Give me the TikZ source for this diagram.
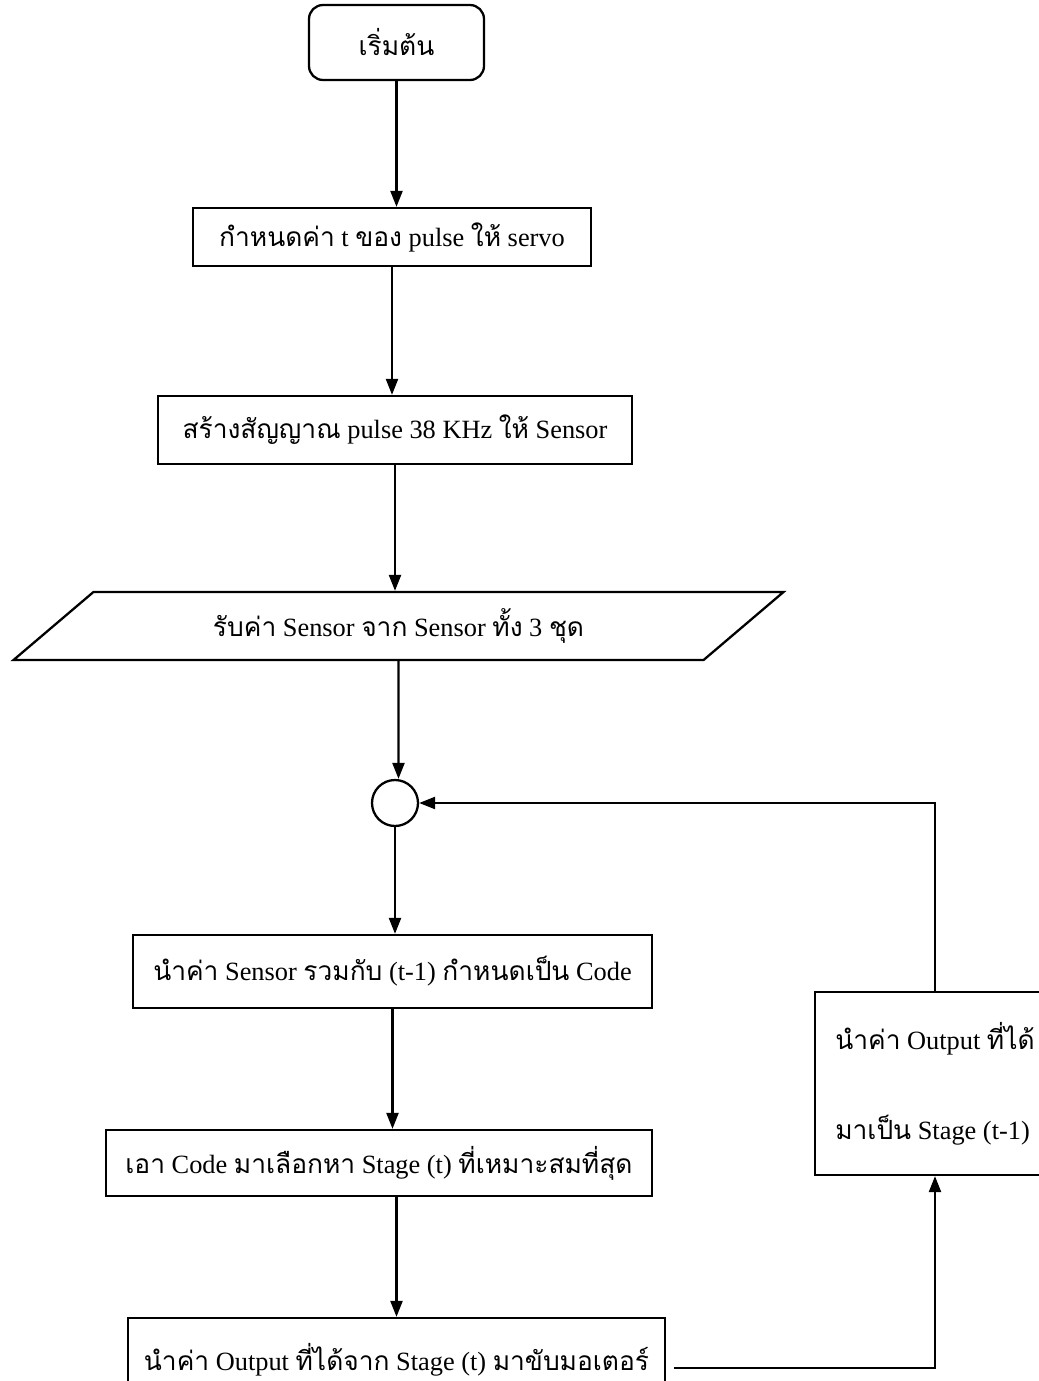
\documentclass[tikz,border=0pt]{standalone}
\usepackage{fontspec}
\setmainfont{Liberation Serif}
\newfontfamily\thaifont[Script=Thai]{Loma}
\newcommand{\thai}[1]{{\thaifont #1}}
\usetikzlibrary{arrows.meta,shapes.geometric}

\begin{document}
\begin{tikzpicture}[
        every node/.style={font=\fontsize{15}{18}\selectfont},
        procbox/.style={draw, rectangle, line width=1.3pt, inner sep=0pt},
        flow/.style={line width=1.3pt, -{Triangle[length=3.2mm,width=2.4mm]}}
    ]
            % Frame to fix the page size:
            \useasboundingbox (0,0) rectangle (20.78,-27.62);
            \clip             (0,0) rectangle (20.78,-27.62);
            % Main column
            \node[procbox, rounded corners=8pt, minimum width=3.50cm, minimum height=1.50cm] (start) at ( 7.93, -0.85) {\thai{เริ่มต้น}};
            \node[procbox, minimum width= 7.96cm, minimum height=1.16cm] (setpulse) at ( 7.84, -4.74) {\thai{กำหนดค่า} t \thai{ของ} pulse \thai{ให้} servo};
            \node[procbox, minimum width= 9.48cm, minimum height=1.36cm] (genpulse) at ( 7.90, -8.60) {\thai{สร้างสัญญาณ} pulse 38 KHz \thai{ให้} Sensor};
            \node[draw, line width=1.3pt, trapezium, trapezium left angle=35.6, trapezium right angle=144.4,
                  trapezium stretches=true, inner sep=0pt, minimum width=15.46cm, minimum height=1.36cm]
                                                                  (readsens) at ( 7.97,-12.52) {\thai{รับค่า} Sensor \thai{จาก} Sensor \thai{ทั้ง} 3 \thai{ชุด}};
            \node[draw, circle, line width=1.3pt, minimum size=0.92cm, inner sep=0pt] (join) at ( 7.90,-16.06) {};
            \node[procbox, minimum width=10.38cm, minimum height=1.46cm] (mkcode)   at ( 7.85,-19.43) {\thai{นำค่า} Sensor \thai{รวมกับ} (t-1) \thai{กำหนดเป็น} Code};
            \node[procbox, minimum width=10.92cm, minimum height=1.32cm] (pickstage) at ( 7.58,-23.26) {\thai{เอา} Code \thai{มาเลือกหา} Stage (t) \thai{ที่เหมาะสมที่สุด}};
            \node[procbox, minimum width=10.74cm, minimum height=1.68cm] (drive)    at ( 7.93,-27.20) {\thai{นำค่า} Output \thai{ที่ได้จาก} Stage (t) \thai{มาขับมอเตอร์}};
            % Feedback box
            \node[procbox, minimum width= 4.80cm, minimum height=3.66cm, align=left] (feedback) at (18.70,-21.67)
                 {\thai{นำค่า} Output \thai{ที่ได้}\\[1.17cm]\thai{มาเป็น} Stage (t-1)};
            % Arrows down the column
            \draw[flow] (start.south)     -- (start |- setpulse.north);
            \draw[flow] (setpulse.south)  -- (setpulse |- genpulse.north);
            \draw[flow] (genpulse.south)  -- (genpulse |- readsens.north);
            \draw[flow] (readsens.south)  -- (readsens |- join.north);
            \draw[flow] (join.south)      -- (join |- mkcode.north);
            \draw[flow] (mkcode.south)    -- (mkcode |- pickstage.north);
            \draw[flow] (pickstage.south -| drive) -- (drive.north);
            % Feedback loop
            \draw[flow] ([xshift=0.16cm, yshift=-0.16cm]drive.east) -| (feedback.south);
            \draw[flow] (feedback.north)  |- (join.east);
\end{tikzpicture}
\end{document}
